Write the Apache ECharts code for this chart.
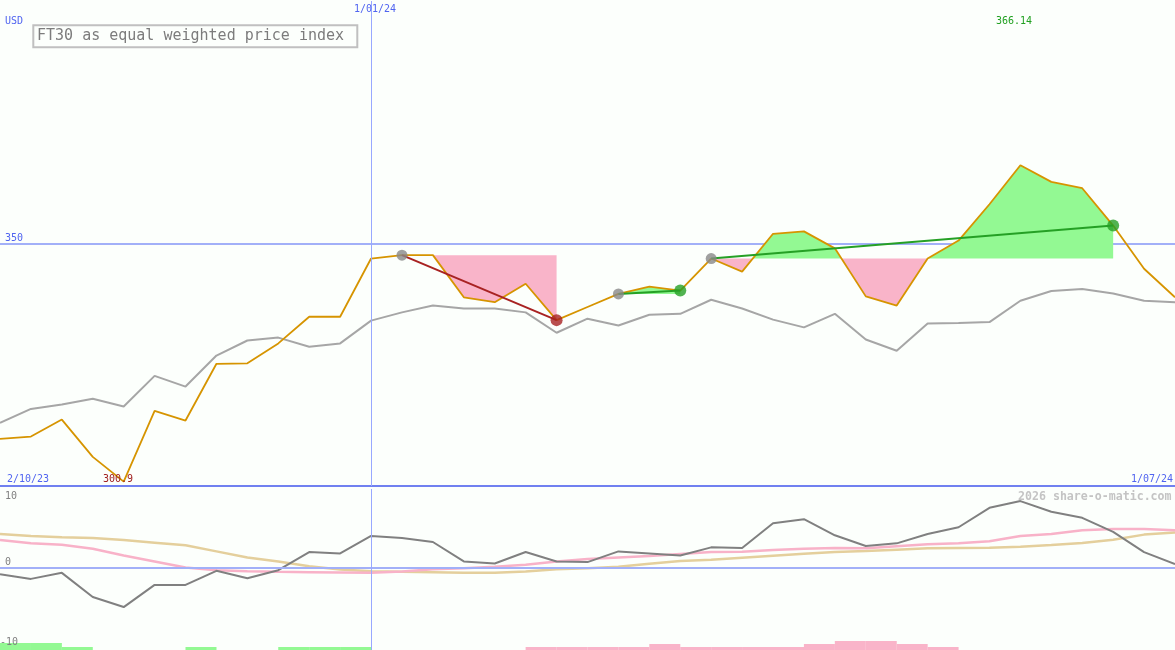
<!DOCTYPE html>
<html><head><meta charset="utf-8">
<script src="https://cdn.jsdelivr.net/npm/echarts@6/dist/echarts.min.js"></script>
<style>html,body{margin:0;padding:0;background:#fcfffc;}#c{width:1175px;height:650px;}</style>
</head><body><div id="c"></div>
<script>
// ---- data (weekly, index 0..38) ----
const price = [309.7, 310.2, 313.7, 306.0, 300.9, 315.5, 313.5, 325.2, 325.3, 329.4, 334.9, 334.9, 346.9, 347.6, 347.6, 338.9, 337.9, 341.7, 334.2, 336.9, 339.6, 341.1, 340.3, 346.9, 344.2, 352.0, 352.5, 349.0, 339.1, 337.2, 346.9, 350.6, 358.1, 366.14, 362.7, 361.4, 353.7, 344.8, 338.9];
const compare = [313.0, 315.9, 316.8, 318.0, 316.4, 322.7, 320.5, 326.9, 330.0, 330.6, 328.7, 329.4, 334.1, 335.8, 337.2, 336.6, 336.6, 335.8, 331.6, 334.5, 333.1, 335.3, 335.5, 338.4, 336.6, 334.3, 332.7, 335.5, 330.2, 327.9, 333.5, 333.6, 333.8, 338.2, 340.2, 340.6, 339.7, 338.2, 337.9];
const momentum = [-0.9, -1.6, -0.7, -4.3, -5.8, -2.5, -2.5, -0.4, -1.5, -0.3, 2.4, 2.2, 4.8, 4.5, 3.9, 1.0, 0.7, 2.4, 1.0, 0.9, 2.5, 2.2, 1.9, 3.1, 3.0, 6.7, 7.3, 4.9, 3.3, 3.7, 5.1, 6.1, 9.0, 10.0, 8.4, 7.5, 5.4, 2.4, 0.6];
const maFast = [4.2, 3.7, 3.5, 2.9, 1.9, 1.0, 0.1, -0.3, -0.45, -0.55, -0.6, -0.65, -0.7, -0.5, -0.15, 0.0, 0.2, 0.5, 1.0, 1.35, 1.6, 1.8, 2.1, 2.4, 2.45, 2.7, 2.9, 3.0, 2.95, 3.25, 3.55, 3.7, 4.0, 4.8, 5.1, 5.65, 5.85, 5.85, 5.65];
const maSlow = [5.1, 4.8, 4.6, 4.5, 4.2, 3.8, 3.4, 2.5, 1.6, 1.0, 0.3, -0.2, -0.45, -0.55, -0.6, -0.7, -0.7, -0.5, -0.15, 0.0, 0.2, 0.65, 1.05, 1.25, 1.55, 1.85, 2.15, 2.4, 2.55, 2.75, 2.95, 3.0, 3.05, 3.2, 3.45, 3.75, 4.25, 5.0, 5.3];
const barsUp   = [7, 7, 3, 0, 0, 0, 3, 0, 0, 3, 3, 3, 0, 0, 0, 0, 0, 0, 0, 0, 0, 0, 0, 0, 0, 0, 0, 0, 0, 0, 0, 0, 0, 0, 0, 0, 0, 0, 0];
const barsDown = [0, 0, 0, 0, 0, 0, 0, 0, 0, 0, 0, 0, 0, 0, 0, 0, 0, 3, 3, 3, 3, 6, 3, 3, 3, 3, 6, 9, 9, 6, 3, 0, 0, 0, 0, 0, 0, 0, 0];
const tradeEntries = [13, 20, 23];
const tradeExits = [18, 22, 36];
const dateLabels = ['2/10/23', '1/01/24', '1/07/24'];
const yearStartIdx = 12;
const priceLevel = 350;
const priceMinLabel = '300.9';
const priceMaxLabel = '366.14';
const oscLabels = ['10', '0', '-10'];

// ---- colours ----
const BLUE_TXT = '#5064f0', LINE_BLUE = '#a2b0f8', VLINE = '#98a8ff', GREEN_FILL = '#93f993', PINK_FILL = '#f9b4c9';

// build fill polygons (between price and entry level)
function clampPoly(entry, exit, L, above) {
  const pts = [[entry, L]];
  for (let i = entry; i <= exit; i++) {
    const y = price[i];
    if (i > entry) {
      const y0 = price[i - 1];
      if ((y0 - L) * (y - L) < 0) { const t = (L - y0) / (y - y0); pts.push([i - 1 + t, L]); }
    }
    pts.push([i, above ? Math.max(y, L) : Math.min(y, L)]);
  }
  pts.push([exit, L]);
  return pts;
}
const polys = [];
tradeEntries.forEach((e, k) => {
  const x = tradeExits[k], L = price[e];
  polys.push({ pts: clampPoly(e, x, L, true), color: GREEN_FILL });
  polys.push({ pts: clampPoly(e, x, L, false), color: PINK_FILL });
});

const idx = price.map((_, i) => i);
const series = [];
series.push({
  type: 'custom', xAxisIndex: 0, yAxisIndex: 0, z: 1, silent: true, clip: true,
  data: polys.map((p, i) => [p.pts[0][0], p.pts[0][1], i]),
  renderItem: (params, api) => {
    const p = polys[params.dataIndex];
    return { type: 'polygon', shape: { points: p.pts.map(q => api.coord(q)) }, style: { fill: p.color } };
  }
});
series.push({
  type: 'line', xAxisIndex: 0, yAxisIndex: 0, z: 2, symbol: 'none', silent: true,
  data: idx.map(i => [i, compare[i]]), lineStyle: { color: '#a6a6a6', width: 2 },
  markLine: { silent: true, symbol: ['none', 'none'], label: { show: false },
    lineStyle: { color: VLINE, width: 1, type: 'solid' }, data: [{ xAxis: yearStartIdx }] }
});
series.push({
  type: 'line', xAxisIndex: 0, yAxisIndex: 0, z: 3, symbol: 'none', silent: true,
  data: idx.map(i => [i, price[i]]), lineStyle: { color: '#d69400', width: 1.8 }
});
tradeEntries.forEach((e, k) => {
  const x = tradeExits[k], win = price[x] > price[e];
  series.push({
    type: 'line', xAxisIndex: 0, yAxisIndex: 0, z: 4, symbol: 'none', silent: true,
    data: [[e, price[e]], [x, price[x]]], lineStyle: { color: win ? '#25a025' : '#a82222', width: 2 }
  });
});
series.push({
  type: 'scatter', xAxisIndex: 0, yAxisIndex: 0, z: 5, silent: true, symbolSize: 11,
  data: tradeEntries.map(e => [e, price[e]]), itemStyle: { color: '#888888' }
});
series.push({
  type: 'scatter', xAxisIndex: 0, yAxisIndex: 0, z: 5, silent: true, symbolSize: 12,
  data: tradeExits.map((x, k) => ({ value: [x, price[x]], itemStyle: { color: price[x] > price[tradeEntries[k]] ? '#25a025' : '#a82222' } }))
});
// lower panel
series.push({
  type: 'bar', xAxisIndex: 1, yAxisIndex: 2, silent: true, barWidth: 31, z: 1,
  data: idx.filter(i => barsUp[i] || barsDown[i]).map(i => ({
    value: [i + 0.5, barsUp[i] || barsDown[i]], itemStyle: { color: barsUp[i] ? GREEN_FILL : PINK_FILL } }))
});
series.push({
  type: 'line', xAxisIndex: 1, yAxisIndex: 1, symbol: 'none', silent: true, z: 2,
  data: idx.map(i => [i, maSlow[i]]), lineStyle: { color: '#e4cf9c', width: 2.5 }
});
series.push({
  type: 'line', xAxisIndex: 1, yAxisIndex: 1, symbol: 'none', silent: true, z: 2,
  data: idx.map(i => [i, maFast[i]]), lineStyle: { color: '#f8b2c8', width: 2.5 }
});
series.push({
  type: 'line', xAxisIndex: 1, yAxisIndex: 1, symbol: 'none', silent: true, z: 3,
  data: idx.map(i => [i, momentum[i]]), lineStyle: { color: '#808080', width: 2 },
  markLine: { silent: true, symbol: ['none', 'none'], label: { show: false },
    data: [
      { yAxis: 0, lineStyle: { color: LINE_BLUE, width: 2, type: 'solid' } },
      { xAxis: yearStartIdx, lineStyle: { color: VLINE, width: 1, type: 'solid' } }
    ] }
});

const MONO = '"DejaVu Sans Mono", "Liberation Mono", monospace';
function txt(x, y, text, size, color, weight) {
  return { type: 'text', x: x, y: y, silent: true, z: 100,
    style: { text: text, font: (weight || 'normal') + ' ' + size + 'px ' + MONO, fill: color,
      align: 'left', verticalAlign: 'middle', textAlign: 'left', textVerticalAlign: 'middle' } };
}

const option = {
  backgroundColor: '#fcfffc',
  animation: false,
  grid: [
    { left: 0, right: 0, top: 1, height: 485, outerBoundsMode: 'none', containLabel: false },
    { left: 0, right: 0, top: 489, height: 161, outerBoundsMode: 'none', containLabel: false }
  ],
  xAxis: [
    { type: 'value', gridIndex: 0, min: 0, max: 38, axisLine: { show: true, onZero: false, lineStyle: { color: '#7080f0', width: 2 } },
      axisTick: { show: false }, axisLabel: { show: false }, splitLine: { show: false } },
    { type: 'value', gridIndex: 1, min: 0, max: 38, show: false }
  ],
  yAxis: [
    { type: 'value', gridIndex: 0, min: 300, max: 400, interval: 50,
      axisLine: { show: false }, axisTick: { show: false }, axisLabel: { show: false },
      splitLine: { show: true, showMinLine: false, showMaxLine: false, lineStyle: { color: LINE_BLUE, width: 2 } } },
    { type: 'value', gridIndex: 1, min: -12.2, max: 11.8, show: false, splitLine: { show: false } },
    { type: 'value', gridIndex: 1, min: 0, max: 161, show: false, splitLine: { show: false } }
  ],
  series: series,
  graphic: [
    { type: 'rect', silent: true, z: 100, shape: { x: 33.3, y: 25.3, width: 324, height: 22 },
      style: { fill: 'none', stroke: '#c0c0c0', lineWidth: 2 } },
    txt(37, 36.5, 'FT30 as equal weighted price index', 15, '#7c7c7c'),
    txt(5, 21, 'USD', 10, BLUE_TXT),
    txt(354, 9.5, dateLabels[1], 10, BLUE_TXT),
    txt(5, 238.5, String(priceLevel), 10, BLUE_TXT),
    txt(7, 479.5, dateLabels[0], 10, BLUE_TXT),
    txt(1131, 479.5, dateLabels[2], 10, BLUE_TXT),
    txt(103, 479.5, priceMinLabel, 10, '#a02020'),
    txt(996, 21.5, priceMaxLabel, 10, '#20a020'),
    txt(1018, 496.5, '2026 share-o-matic.com', 11.6, '#c4c4c4', 'bold'),
    txt(5, 496, oscLabels[0], 10, '#808080'),
    txt(5, 562.5, oscLabels[1], 10, '#808080'),
    txt(0, 642.5, oscLabels[2], 10, '#808080')
  ]
};
const chart = echarts.init(document.getElementById('c'), null, { renderer: 'canvas' });
chart.setOption(option);
</script></body></html>
